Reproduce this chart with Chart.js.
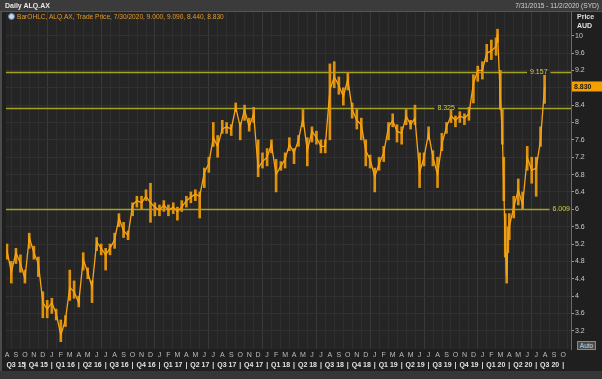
<!DOCTYPE html>
<html>
<head>
<meta charset="utf-8">
<script src="https://cdn.jsdelivr.net/npm/chart.js@4.4.0/dist/chart.umd.min.js"></script>
<style>
  html, body { margin: 0; padding: 0; background: #1f1f1f; }
  #wrap { position: relative; width: 602px; height: 379px; overflow: hidden; font-family: 'Liberation Sans', Arial, sans-serif; }
  #chart { position: absolute; left: 0; top: 0; }
  .header { position: absolute; left: 0; top: 0; width: 602px; height: 11px; background: #3b3b3b; border-bottom: 1px solid #565656; }
  .title { position: absolute; left: 5px; top: 1px; font-size: 7px; font-weight: bold; color: #e6e6e6; line-height: 9px; white-space: nowrap; }
  .range { position: absolute; right: 3px; top: 1px; font-size: 6.6px; color: #d2d2d2; line-height: 9px; white-space: nowrap; }
  .legend { position: absolute; left: 8px; top: 13px; font-size: 6.6px; color: #e39a2a; line-height: 8px; white-space: nowrap; }
  .legend i { display: inline-block; width: 7px; height: 7px; border-radius: 50%; background: #c9d6e6; border: 1px solid #5f7fa8; margin-right: 2px; vertical-align: -1px; box-sizing: border-box; }
  .unit { position: absolute; left: 577px; font-size: 7px; font-weight: bold; color: #e0e0e0; line-height: 8px; }
  .auto { position: absolute; left: 577px; top: 341px; width: 17px; height: 7px; font-size: 6.5px; line-height: 7px; text-align: center; color: #d8d8d8; background: #4a4a4a; border: 1px solid #8a8a8a; }
</style>
</head>
<body>
<div id="wrap">
  <canvas id="chart" width="602" height="379"></canvas>
  <div class="header"><span class="title">Daily ALQ.AX</span><span class="range">7/31/2015 - 11/2/2020 (SYD)</span></div>
  <div class="legend"><i></i>BarOHLC, ALQ.AX, Trade Price, 7/30/2020, 9.000, 9.090, 8.440, 8.830</div>
  <div class="unit" style="top:13px">Price</div>
  <div class="unit" style="top:22px">AUD</div>
  <div class="auto">Auto</div>
</div>
<script>
// semi-monthly samples of the daily bars (close, high, low)
const dates = [
  '2015-08-01','2015-08-16','2015-09-01','2015-09-16','2015-10-01','2015-10-16','2015-11-01','2015-11-16','2015-12-01','2015-12-16',
  '2016-01-01','2016-01-16','2016-02-01','2016-02-16','2016-03-01','2016-03-16','2016-04-01','2016-04-16','2016-05-01','2016-05-16','2016-06-01','2016-06-16',
  '2016-07-01','2016-07-16','2016-08-01','2016-08-16','2016-09-01','2016-09-16','2016-10-01','2016-10-16','2016-11-01','2016-11-16','2016-12-01','2016-12-16',
  '2017-01-01','2017-01-16','2017-02-01','2017-02-16','2017-03-01','2017-03-16','2017-04-01','2017-04-16','2017-05-01','2017-05-16','2017-06-01','2017-06-16',
  '2017-07-01','2017-07-16','2017-08-01','2017-08-16','2017-09-01','2017-09-16','2017-10-01','2017-10-16','2017-11-01','2017-11-16','2017-12-01','2017-12-16',
  '2018-01-01','2018-01-16','2018-02-01','2018-02-16','2018-03-01','2018-03-16','2018-04-01','2018-04-16','2018-05-01','2018-05-16','2018-06-01','2018-06-16',
  '2018-07-01','2018-07-16','2018-08-01','2018-08-16','2018-09-01','2018-09-16','2018-10-01','2018-10-16','2018-11-01','2018-11-16','2018-12-01','2018-12-16',
  '2019-01-01','2019-01-16','2019-02-01','2019-02-16','2019-03-01','2019-03-16','2019-04-01','2019-04-16','2019-05-01','2019-05-16','2019-06-01','2019-06-16',
  '2019-07-01','2019-07-16','2019-08-01','2019-08-16','2019-09-01','2019-09-16','2019-10-01','2019-10-16','2019-11-01','2019-11-16','2019-12-01','2019-12-16',
  '2020-01-01','2020-01-16','2020-02-01','2020-02-16','2020-02-21','2020-03-01','2020-03-08','2020-03-13','2020-03-18','2020-03-23','2020-03-27',
  '2020-04-01','2020-04-16','2020-05-01','2020-05-16','2020-06-01','2020-06-16','2020-07-01','2020-07-16','2020-07-30'
];
const closes = [
  5.05,4.55,5.0,4.75,4.4,5.35,5.0,4.75,3.85,3.7,
  3.85,3.6,3.1,3.45,4.2,4.1,3.85,4.85,4.55,4.2,5.25,5.1,
  4.95,5.1,5.3,5.8,5.5,5.4,6.1,6.2,6.15,6.3,6.15,6.05,
  5.98,6.1,5.98,6.05,5.95,6.05,6.2,6.28,6.35,6.3,6.85,7.05,
  7.65,7.45,7.85,7.9,7.85,8.35,7.9,8.3,7.9,8.2,6.95,7.1,
  7.2,7.5,6.8,7.0,7.15,7.5,7.3,7.6,8.1,7.35,7.8,7.65,
  7.45,7.45,8.75,9.05,8.85,8.6,9.0,8.3,8.05,7.95,7.35,7.15,
  6.75,7.05,7.3,7.9,8.05,7.8,7.75,8.15,7.95,8.1,6.85,7.2,
  7.75,7.2,6.8,7.5,7.9,8.15,8.05,8.15,8.1,8.2,8.9,9.2,
  9.2,9.6,9.65,9.75,10.05,8.6,7.7,6.5,5.2,4.45,5.3,
  5.6,6.05,6.45,6.1,7.2,6.9,6.95,7.6,8.83
];
const highs = [
  5.2,4.8,5.1,4.95,4.6,5.45,5.15,4.9,4.1,3.9,
  3.95,3.7,3.45,3.55,4.6,4.35,4.0,5.0,4.65,4.35,5.35,5.2,
  5.1,5.2,5.45,5.9,5.7,5.5,6.15,6.3,6.3,6.45,6.6,6.15,
  6.1,6.2,6.1,6.15,6.05,6.2,6.3,6.4,6.45,6.4,6.95,7.2,
  8.0,7.7,8.05,8.0,7.95,8.45,8.0,8.4,8.1,8.35,7.6,7.3,
  7.4,7.6,7.15,7.1,7.3,7.65,7.4,7.7,8.3,7.65,7.9,7.8,
  7.6,7.6,9.35,9.4,9.05,8.8,9.15,8.45,8.3,8.1,7.6,7.25,
  6.95,7.2,7.45,8.0,8.2,7.95,7.9,8.3,8.05,8.4,7.3,7.3,
  7.9,7.35,7.2,7.75,8.0,8.3,8.15,8.25,8.2,8.35,9.1,9.3,
  9.4,9.8,9.9,9.95,10.15,9.2,8.3,7.2,5.9,5.0,5.6,
  5.9,6.3,6.7,6.4,7.45,7.2,7.2,7.9,9.09
];
const lows = [
  4.85,4.3,4.75,4.55,4.3,5.1,4.85,4.45,3.5,3.5,
  3.6,3.45,2.95,3.3,3.9,3.95,3.75,4.6,4.4,3.85,5.05,4.95,
  4.6,4.95,5.1,5.6,5.35,5.3,5.85,6.05,6.0,6.2,5.7,5.85,
  5.85,5.95,5.85,5.9,5.75,5.95,6.05,6.15,6.2,5.8,6.5,6.85,
  7.45,7.2,7.75,7.75,7.7,8.25,7.6,8.05,7.8,8.0,6.75,6.95,
  7.0,7.3,6.4,6.9,6.95,7.35,7.05,7.45,7.9,7.0,7.55,7.5,
  7.3,7.3,7.6,8.8,8.65,8.4,8.75,8.1,7.85,7.6,7.0,6.95,
  6.4,6.9,7.1,7.6,7.9,7.55,7.5,7.95,7.85,7.95,6.5,7.0,
  7.6,7.0,6.5,7.35,7.75,8.0,7.9,8.0,7.95,8.05,8.45,8.95,
  9.0,9.4,9.45,9.55,9.85,8.3,7.5,6.2,4.9,4.3,5.0,
  5.3,5.8,6.1,6.0,6.9,6.6,6.3,7.45,8.44
];
const levels = [9.157, 8.325, 6.009];
const lastClose = 8.830;
const yTicks = [3.2, 3.6, 4, 4.4, 4.8, 5.2, 5.6, 6, 6.4, 6.8, 7.2, 7.6, 8, 8.4, 8.8, 9.2, 9.6, 10];
const monthLetters = ['J','F','M','A','M','J','J','A','S','O','N','D'];
const quarterNames = ['Q3 15','Q4 15','Q1 16','Q2 16','Q3 16','Q4 16','Q1 17','Q2 17','Q3 17','Q4 17','Q1 18',
  'Q2 18','Q3 18','Q4 18','Q1 19','Q2 19','Q3 19','Q4 19','Q1 20','Q2 20','Q3 20'];

// months since 1 Aug 2015
function monthOffset(d) {
  const [y, m, day] = d.split('-').map(Number);
  const dim = new Date(y, m, 0).getDate();
  return (y - 2015) * 12 + (m - 8) + (day - 1) / dim;
}

const X_MIN = -0.11, X_MAX = 62.88;

const closePts = dates.map((d, i) => ({ x: monthOffset(d), y: closes[i] }));
const rangePts = dates.map((d, i) => ({ x: monthOffset(d), y: [lows[i], highs[i]] }));

// quarter label ticks (mid of each visible quarter) and separators at quarter starts
const quarterTicks = [];
quarterNames.forEach((q, i) => {
  const start = -1 + 3 * i;
  const end = start + 3;
  quarterTicks.push({ value: (Math.max(start, 0) + end) / 2, label: q });
  quarterTicks.push({ value: end, label: '|' });
});

const backdrop = {
  id: 'backdrop',
  beforeDraw(chart) {
    const { ctx, chartArea: a } = chart;
    ctx.save();
    ctx.fillStyle = '#252525';
    ctx.fillRect(a.left, a.top, a.right - a.left, a.bottom - a.top);
    ctx.fillStyle = '#4a4a4a';
    ctx.fillRect(0, 0, 2, 379);
    ctx.fillStyle = '#363636';
    ctx.fillRect(0, 371, 602, 8);
    ctx.restore();
  }
};

// horizontal level lines with their value written into a gap
const levelLines = {
  id: 'levelLines',
  beforeDatasetsDraw(chart) {
    const { ctx, chartArea: a, scales: { y } } = chart;
    const labelAt = [0.943, 0.779, 1];
    ctx.save();
    ctx.font = '7px "Liberation Sans"';
    ctx.textBaseline = 'middle';
    levels.forEach((v, i) => {
      const py = Math.round(y.getPixelForValue(v)) + 0.5;
      const txt = v.toFixed(3);
      const w = ctx.measureText(txt).width;
      let cx = a.left + labelAt[i] * (a.right - a.left);
      if (labelAt[i] === 1) cx = a.right - w / 2 - 1;
      const gap0 = cx - w / 2 - 3, gap1 = cx + w / 2 + 3;
      ctx.strokeStyle = '#a3a321';
      ctx.lineWidth = 1.6;
      ctx.beginPath();
      ctx.moveTo(a.left, py); ctx.lineTo(gap0, py);
      if (gap1 < a.right) { ctx.moveTo(gap1, py); ctx.lineTo(a.right, py); }
      ctx.stroke();
      ctx.fillStyle = '#cfcf3e';
      ctx.textAlign = 'center';
      ctx.fillText(txt, cx, py);
    });
    ctx.restore();
  }
};

const lastTag = {
  id: 'lastTag',
  afterDraw(chart) {
    const { ctx, chartArea: a, scales: { y } } = chart;
    const py = y.getPixelForValue(lastClose);
    ctx.save();
    ctx.fillStyle = '#f5a000';
    ctx.fillRect(a.right + 1, py - 5, 602 - a.right - 1, 10);
    ctx.fillStyle = '#1a1a1a';
    ctx.font = 'bold 7px "Liberation Sans"';
    ctx.textBaseline = 'middle';
    ctx.textAlign = 'left';
    ctx.fillText(lastClose.toFixed(3), a.right + 3, py + 0.5);
    ctx.restore();
  }
};

Chart.defaults.font.family = '"Liberation Sans", Arial, sans-serif';

new Chart(document.getElementById('chart').getContext('2d'), {
  type: 'bar',
  data: {
    datasets: [
      {
        type: 'line',
        label: 'Close',
        data: closePts,
        borderColor: '#f7a516',
        borderWidth: 1.3,
        pointRadius: 0,
        tension: 0,
        order: 1
      },
      {
        type: 'bar',
        label: 'Range',
        data: rangePts,
        backgroundColor: '#e0920c',
        barThickness: 2,
        grouped: false,
        order: 2
      }
    ]
  },
  options: {
    responsive: false,
    animation: false,
    layout: { padding: { left: 6, top: 12, bottom: 8, right: 0 } },
    plugins: {
      legend: { display: false },
      tooltip: { enabled: false }
    },
    scales: {
      x: {
        type: 'linear',
        position: 'bottom',
        min: X_MIN,
        max: X_MAX,
        offset: false,
        afterBuildTicks: (s) => { s.ticks = []; for (let m = 0; m <= 62; m++) s.ticks.push({ value: m }); },
        afterFit: (s) => { s.height = 11; },
        ticks: {
          autoSkip: false,
          maxRotation: 0,
          padding: 2,
          color: '#bdbdbd',
          font: { size: 7 },
          callback: (v) => monthLetters[(v + 7) % 12]
        },
        grid: {
          drawTicks: false,
          color: (c) => {
            if (!c.tick) return '#2f2f2f';
            const mo = (c.tick.value + 7) % 12;
            return (mo === 0 || mo === 6) ? '#393939' : '#2f2f2f';
          }
        },
        border: { display: false }
      },
      xq: {
        type: 'linear',
        position: 'bottom',
        min: X_MIN,
        max: X_MAX,
        offset: false,
        afterBuildTicks: (s) => { s.ticks = quarterTicks.map(t => ({ value: t.value })); },
        afterFit: (s) => { s.height = 11; },
        ticks: {
          autoSkip: false,
          maxRotation: 0,
          padding: 1,
          color: '#e2e2e2',
          font: { size: 7, weight: 'bold' },
          callback: (v) => { const t = quarterTicks.find(q => q.value === v); return t ? t.label : ''; }
        },
        grid: { display: false, drawTicks: false },
        border: { display: false }
      },
      y: {
        type: 'linear',
        position: 'right',
        min: 2.781,
        max: 10.546,
        afterBuildTicks: (s) => { s.ticks = yTicks.map(v => ({ value: v })); },
        afterFit: (s) => { s.width = 31; },
        ticks: {
          padding: 1,
          color: '#c8c8c8',
          font: { size: 7 },
          callback: (v) => String(v)
        },
        grid: { color: '#313131', tickLength: 3, tickColor: '#9a9a9a' },
        border: { display: true, color: '#6a6a6a' }
      }
    }
  },
  plugins: [backdrop, levelLines, lastTag]
});
</script>
</body>
</html>
